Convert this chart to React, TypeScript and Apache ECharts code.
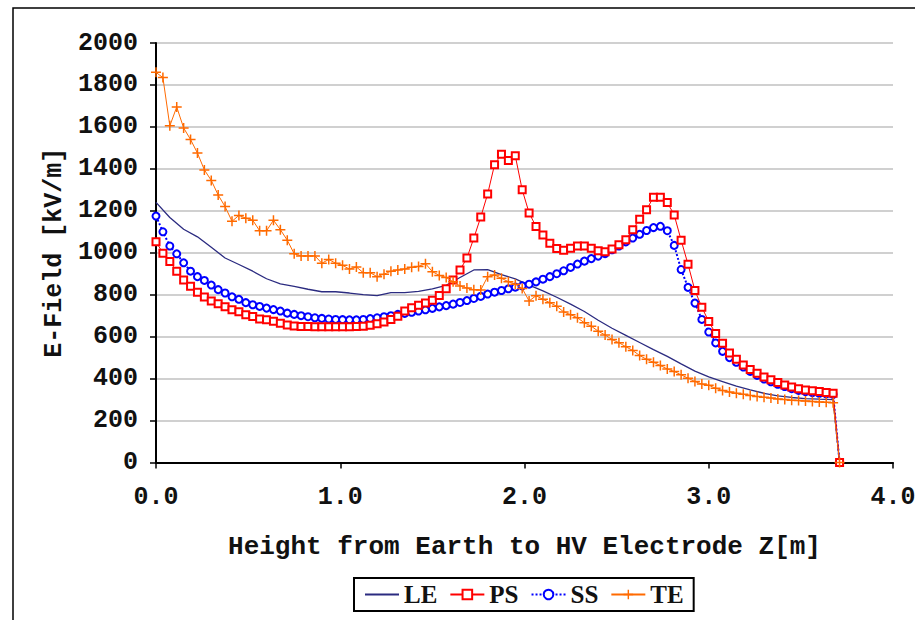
import React, { useEffect, useRef } from "react";
import * as echarts from "echarts";

// Sampling of the height axis (m)
const Z_STEP = 0.0375;
const LE_STEP = 0.075;
const Z_END = 3.71;

const X_TICKS = [0, 1, 2, 3, 4];
const Y_MIN = 0;
const Y_MAX = 2000;
const Y_STEP = 200;

// LE values every 0.075 m (kV/m)
const LE_VALUES = [
  1240, 1168, 1112, 1076, 1026, 975, 944, 912, 876, 852,
  840, 826, 814, 814, 808, 800, 796, 810, 810, 816,
  828, 845, 882, 918, 920, 896, 875, 846, 818, 788,
  755, 720, 678, 640, 606, 572, 538, 506, 470, 436,
  408, 386, 364, 346, 330, 318, 310, 305, 302, 300,
];

// PS values every 0.0375 m (kV/m)
const PS_VALUES = [
  1053, 998, 958, 912, 870, 840, 812, 789, 770, 757,
  743, 728, 719, 704, 696, 684, 680, 674, 664, 656,
  651, 648, 648, 647, 647, 647, 647, 647, 647, 648,
  650, 654, 662, 670, 682, 697, 722, 738, 750, 760,
  773, 796, 828, 870, 918, 975, 1070, 1170, 1280, 1420,
  1470, 1440, 1462, 1300, 1190, 1125, 1085, 1045, 1020, 1012,
  1022, 1032, 1032, 1022, 1010, 1005, 1018, 1038, 1062, 1110,
  1160, 1205, 1265, 1265, 1240, 1180, 1060, 945, 820, 740,
  672, 615, 568, 522, 492, 465, 443, 425, 408, 394,
  382, 370, 360, 352, 346, 342, 338, 334, 330,
];

// SS values every 0.0375 m (kV/m)
const SS_VALUES = [
  1175, 1100, 1032, 995, 952, 912, 886, 868, 846, 824,
  808, 790, 778, 762, 752, 744, 736, 729, 722, 712,
  706, 700, 695, 690, 687, 684, 682, 681, 680, 680,
  682, 686, 690, 695, 700, 706, 711, 716, 722, 728,
  735, 742, 748, 755, 763, 772, 782, 792, 803, 812,
  820, 828, 836, 842, 850, 861, 874, 886, 900, 914,
  930, 946, 960, 972, 984, 996, 1014, 1032, 1052, 1070,
  1088, 1106, 1120, 1126, 1105, 1035, 920, 835, 760, 682,
  622, 570, 530, 500, 478, 455, 434, 415, 398, 385,
  373, 362, 352, 344, 338, 333, 330, 327, 325,
];

// TE values every 0.0375 m (kV/m)
const TE_VALUES = [
  1860, 1835, 1605, 1695, 1595, 1540, 1475, 1395, 1345, 1275,
  1220, 1150, 1178, 1165, 1155, 1105, 1105, 1155, 1110, 1060,
  995, 985, 985, 985, 950, 968, 950, 940, 922, 932,
  905, 905, 886, 898, 912, 918, 922, 931, 935, 948,
  910, 892, 882, 862, 842, 832, 824, 822, 886, 894,
  878, 862, 850, 830, 770, 795, 778, 762, 745, 718,
  705, 690, 666, 650, 626, 608, 586, 571, 552, 534,
  510, 492, 478, 462, 446, 434, 418, 402, 386, 374,
  368, 354, 343, 336, 330, 325, 320, 315, 311, 307,
  303, 300, 297, 295, 293, 291, 289, 287, 285,
];

const toPoints = (vals: number[], step: number) =>
  vals.map((v, i) => [Number((i * step).toFixed(4)), v]).concat([[Z_END, 0]]);

const MONO = "'Liberation Mono', 'DejaVu Sans Mono', monospace";
const SERIF = "'Liberation Serif', 'DejaVu Serif', serif";
const PLUS = "path://M4.25,0h1.5v4.25h4.25v1.5h-4.25v4.25h-1.5v-4.25h-4.25v-1.5h4.25z";

export default function App() {
  const ref = useRef<HTMLDivElement>(null);

  useEffect(() => {
    document.body.style.margin = "0";
    if (!ref.current) return;
    const chart = echarts.init(ref.current, null, { renderer: "svg" });
    chart.setOption({
      animation: false,
      backgroundColor: "#ffffff",
      grid: {
        left: 156,
        right: 22,
        top: 43,
        bottom: 157.5,
        containLabel: false,
        outerBoundsMode: "none",
      },
      graphic: [
        {
          type: "rect",
          shape: { x: 13, y: 8, width: 1000, height: 1000 },
          style: { fill: "none", stroke: "#000", lineWidth: 1.5 },
          silent: true,
        },
      ],
      legend: {
        data: [
          { name: "LE", itemStyle: { opacity: 0 } },
          { name: "PS" },
          { name: "SS" },
          { name: "TE" },
        ],
        left: 354,
        top: 578,
        orient: "horizontal",
        padding: [4, 10, 4, 10],
        itemGap: 12,
        itemWidth: 34,
        itemHeight: 12,
        borderColor: "#000",
        borderWidth: 2,
        backgroundColor: "#fff",
        textStyle: {
          fontFamily: SERIF,
          fontWeight: "bold",
          fontSize: 25,
          color: "#111",
        },
      },
      xAxis: {
        type: "value",
        min: X_TICKS[0],
        max: X_TICKS[X_TICKS.length - 1],
        interval: 1,
        name: "Height from Earth to HV Electrode Z[m]",
        nameLocation: "middle",
        nameGap: 71,
        nameTextStyle: {
          fontFamily: MONO,
          fontSize: 26,
          fontWeight: "bold",
          color: "#111",
        },
        axisLine: { show: true, lineStyle: { color: "#000", width: 2 } },
        axisTick: { show: true, length: 6, lineStyle: { color: "#000", width: 1.5 } },
        splitLine: { show: false },
        axisLabel: {
          margin: 22,
          fontFamily: MONO,
          fontSize: 25,
          fontWeight: "bold",
          color: "#111",
          formatter: (v: number) => v.toFixed(1),
        },
      },
      yAxis: {
        type: "value",
        min: Y_MIN,
        max: Y_MAX,
        interval: Y_STEP,
        name: "E-Field [kV/m]",
        nameLocation: "middle",
        nameGap: 88,
        nameRotate: 90,
        nameTextStyle: {
          fontFamily: MONO,
          fontSize: 25,
          fontWeight: "bold",
          color: "#111",
        },
        axisLine: { show: true, lineStyle: { color: "#000", width: 2 } },
        axisTick: { show: true, length: 6, lineStyle: { color: "#000", width: 1.5 } },
        splitLine: { show: true, lineStyle: { color: "#c0c0c0", width: 1.5 } },
        axisLabel: {
          margin: 18,
          fontFamily: MONO,
          fontSize: 25,
          fontWeight: "bold",
          color: "#111",
          formatter: (v: number) => String(v),
        },
      },
      series: [
        {
          name: "LE",
          type: "line",
          data: toPoints(LE_VALUES, LE_STEP),
          symbol: "none",
          color: "#2b2b80",
          lineStyle: { color: "#2b2b80", width: 1.3 },
          z: 2,
        },
        {
          name: "PS",
          type: "line",
          data: toPoints(PS_VALUES, Z_STEP),
          symbol: "emptyRect",
          symbolSize: 7,
          color: "#ff0000",
          lineStyle: { color: "#ff0000", width: 1 },
          itemStyle: { color: "#ff0000", borderColor: "#ff0000", borderWidth: 1.5 },
          z: 4,
        },
        {
          name: "SS",
          type: "line",
          data: toPoints(SS_VALUES, Z_STEP),
          symbol: "emptyCircle",
          symbolSize: 7,
          color: "#0000ff",
          lineStyle: { color: "#0000ff", width: 2, type: "dotted" },
          itemStyle: { color: "#0000ff", borderColor: "#0000ff", borderWidth: 2.2 },
          z: 3,
        },
        {
          name: "TE",
          type: "line",
          data: toPoints(TE_VALUES, Z_STEP),
          symbol: PLUS,
          symbolSize: 10,
          color: "#ff6a00",
          lineStyle: { color: "#ff6a00", width: 1 },
          itemStyle: { color: "#ff6a00" },
          z: 5,
        },
      ],
    });
    return () => chart.dispose();
  }, []);

  return <div ref={ref} style={{ width: 915, height: 620 }} />;
}
